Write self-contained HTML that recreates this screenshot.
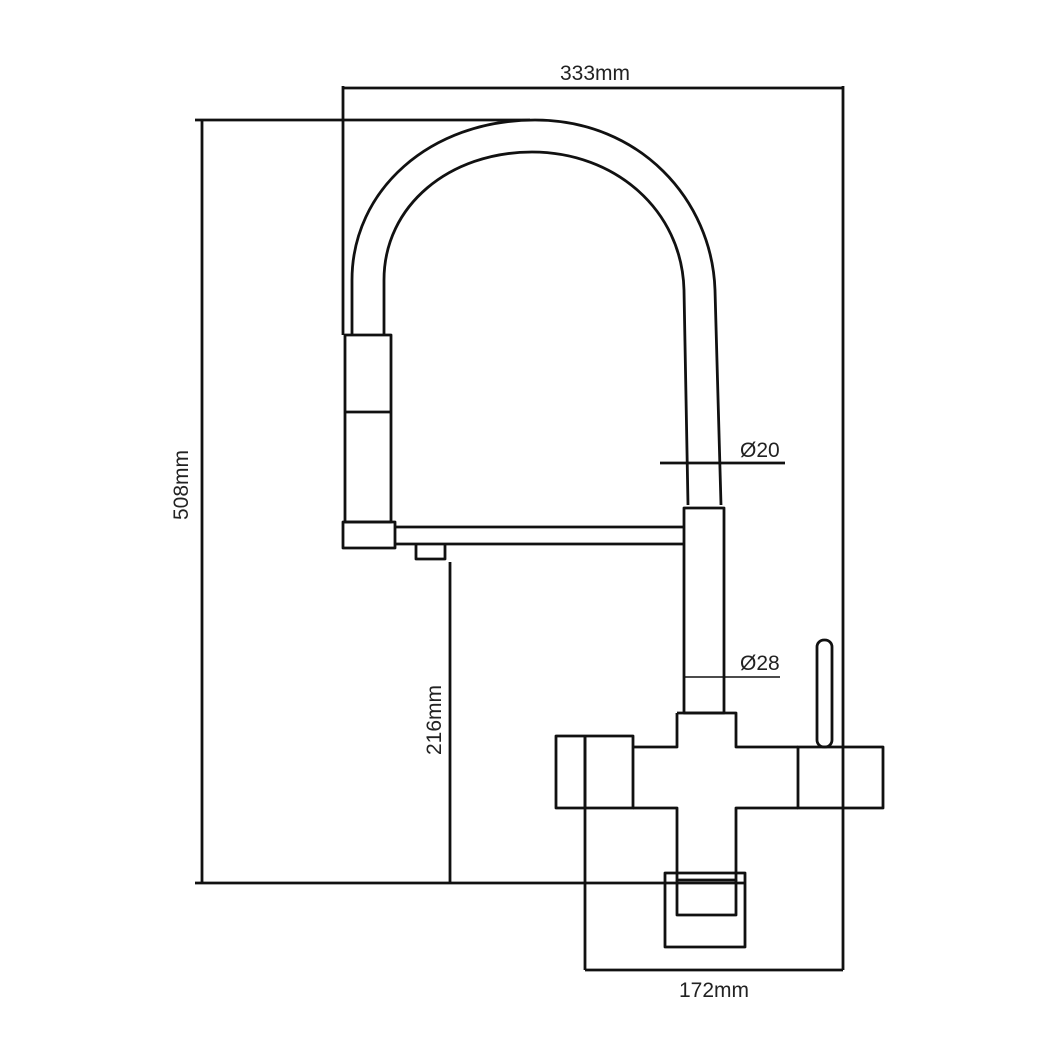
<!DOCTYPE html>
<html><head><meta charset="utf-8"><style>
html,body{margin:0;padding:0;background:#fff;}
svg{display:block;}
text{font-family:"Liberation Sans",sans-serif;fill:#222;}
</style></head><body>
<svg width="1050" height="1050" viewBox="0 0 1050 1050" xmlns="http://www.w3.org/2000/svg">
<g fill="none" stroke="#111" stroke-width="2.8" stroke-linejoin="round">
<line x1="343" y1="88" x2="843" y2="88"/>
<line x1="343" y1="86" x2="343" y2="335"/>
<line x1="843" y1="86" x2="843" y2="970"/>
<line x1="195" y1="120" x2="530" y2="120"/>
<line x1="202" y1="120" x2="202" y2="883"/>
<line x1="195" y1="883" x2="745" y2="883"/>
<line x1="450" y1="562" x2="450" y2="883"/>
<line x1="585" y1="736" x2="585" y2="970"/>
<line x1="585" y1="970" x2="843" y2="970"/>
<line x1="660" y1="463" x2="785" y2="463"/>
<line x1="683" y1="677" x2="780" y2="677" stroke-width="1.5"/>
<path d="M352 335 L352 280 C352 190 430 120 535 120 C640 120 712 200 715 290 L721 505"/>
<path d="M384 335 L384 280 C384 205 450 152 532 152 C615 152 682 210 684 290 L688 505"/>
<rect x="345" y="335" width="46" height="187"/>
<line x1="345" y1="412" x2="391" y2="412"/>
<rect x="343" y="522" width="52" height="26"/>
<line x1="395" y1="527" x2="684" y2="527"/>
<line x1="395" y1="544" x2="684" y2="544"/>
<path d="M416 544 L416 559 L445 559 L445 544"/>
<rect x="684" y="508" width="40" height="205"/>
<path d="M677 713 L736 713 L736 747 L798 747 M798 808 L736 808 L736 880 L677 880 L677 808 L633 808 M633 747 L677 747 L677 713"/>
<rect x="556" y="736" width="77" height="72"/>
<line x1="585" y1="736" x2="585" y2="808"/>
<rect x="798" y="747" width="85" height="61"/>
<rect x="817" y="640" width="15" height="107" rx="7"/>
<rect x="665" y="873" width="80" height="74"/>
<path d="M677 880 L677 915 L736 915 L736 880"/>
</g>
<text x="595" y="80" font-size="21" text-anchor="middle">333mm</text>
<text x="714" y="997" font-size="21" text-anchor="middle">172mm</text>
<text x="740" y="457" font-size="21">Ø20</text>
<text x="740" y="670" font-size="21">Ø28</text>
<text transform="translate(188,485) rotate(-90)" font-size="21" text-anchor="middle">508mm</text>
<text transform="translate(441,720) rotate(-90)" font-size="21" text-anchor="middle">216mm</text>
</svg>
</body></html>
